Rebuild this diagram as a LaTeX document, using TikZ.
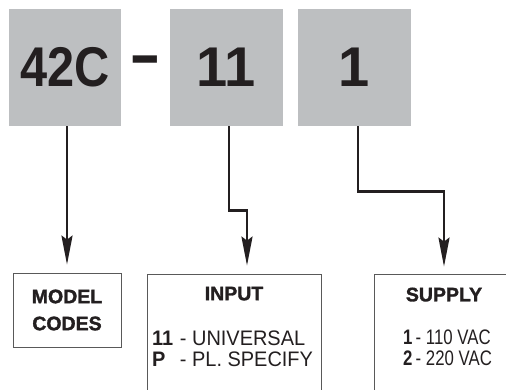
\documentclass[tikz,border=0pt]{standalone}
\usepackage{fontspec}
\setmainfont{Liberation Sans}
\newfontfamily\heavyfont[BoldFeatures={FakeBold=1.6}]{Liberation Sans}
\usetikzlibrary{arrows.meta}
\definecolor{codegray}{HTML}{BDBFC1}
\definecolor{ink}{HTML}{231F20}

\begin{document}
\begin{tikzpicture}[x=1pt,y=-1pt,>={Stealth[length=29pt,width=11pt,inset=4pt]},
  codebox/.style={rectangle,fill=codegray,inner sep=0pt,minimum height=117pt,
    font=\fontsize{56}{56}\selectfont\bfseries,text=ink},
  descbox/.style={rectangle,draw=black!65,line width=0.8pt,inner sep=0pt},
  heading/.style={font=\fontsize{19.5}{27}\selectfont\heavyfont\bfseries,text=ink,align=center},
  listing/.style={font=\fontsize{21}{21}\selectfont,text=ink,inner sep=0pt,anchor=west},
  link/.style={->,line width=2.6pt,draw=ink,shorten >=8pt}]
\useasboundingbox (0,0) rectangle (506,389);
\clip (0,0) rectangle (506,389);
% The code boxes
\node[codebox,minimum width=112pt] (model) at (65,67.5) {\scalebox{0.87}[1]{42C}};
\node[inner sep=0pt,font=\fontsize{56}{56}\selectfont\bfseries,text=ink] (dash) at (145.5,66) {\scalebox{1.7}[1.1]{-}};
\node[codebox,minimum width=113pt] (input) at (226.5,67.5) {11};
\node[codebox,minimum width=113pt] (supply) at (354.5,67.5) {1};

% The description boxes
\node[descbox,minimum width=108pt,minimum height=74pt] (modeldesc) at (67,310) {};
\node[descbox,minimum width=174pt,minimum height=126pt] (inputdesc) at (234,337) {};
\node[descbox,minimum width=140pt,minimum height=126pt] (supplydesc) at (444,337) {};

\node[heading] (modelhead) at (modeldesc) {MODEL\\CODES};
\node[heading] (inputhead) at ([yshift=-20pt]inputdesc.north) {INPUT};
\node[heading] (supplyhead) at ([yshift=-21pt]supplydesc.north) {SUPPLY};

\node[listing] (inputlist) at (152,351.5)
  {\scalebox{0.95}[1]{\begin{tabular}{@{}l@{\hspace{7pt}}l@{}}\textbf{11} & - UNIVERSAL\\ \textbf{P} & - PL. SPECIFY\end{tabular}}};
\node[listing] (supplylist) at (403,350.5)
  {\scalebox{0.8}[1]{\begin{tabular}{@{}l@{\hspace{4pt}}l@{}}\textbf{1} & - 110 VAC\\ \textbf{2} & - 220 VAC\end{tabular}}};

% The arrows
\draw[link] (modeldesc.north |- model.south) -- (modeldesc.north);
\draw[link] ([xshift=2.5pt]input.south) -- ++(0,84) -| ([xshift=13pt]inputdesc.north);
\draw[link,shorten >=7pt] ([xshift=3.5pt]supply.south) -- ++(0,65) -| (supplydesc.north);
\end{tikzpicture}
\end{document}
